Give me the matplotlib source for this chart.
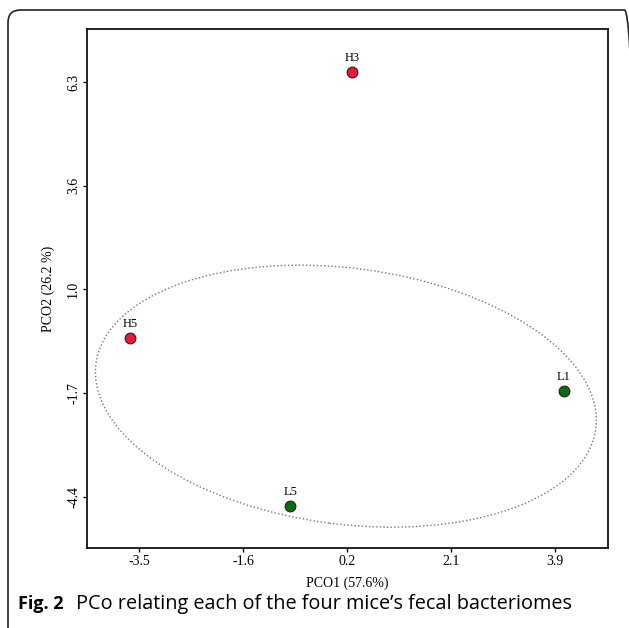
import numpy as np
import matplotlib
matplotlib.use('Agg')
import matplotlib.pyplot as plt
from matplotlib.patches import Ellipse, FancyBboxPatch
from matplotlib.transforms import Affine2D

# data
samples = ['H3', 'H5', 'L1', 'L5']
pco1 = [0.29, -3.66, 4.06, -0.81]
pco2 = [6.56, -0.31, -1.67, -4.63]
groups = ['H', 'H', 'L', 'L']
group_colors = {'H': '#e8173d', 'L': '#0e6a12'}

x_tick_labels = ['-3.5', '-1.6', '0.2', '2.1', '3.9']
y_tick_labels = ['-4.4', '-1.7', '1.0', '3.6', '6.3']
x_ticks = np.linspace(-3.5, 3.9, 5)
y_ticks = np.linspace(-4.4, 6.3, 5)

# ellipse (centre in data units, semi-axes in screen px, tilt in degrees)
ell_center = (0.18, -1.80)
ell_axes_px = (252, 128)
ell_angle = -7.4

W, H = 629, 628
fig = plt.figure(figsize=(W / 100, H / 100), dpi=100)

# rounded frame round the figure
frame = FancyBboxPatch((8 / W, -0.05), 1.0, 1 - 10 / H + 0.05,
                       boxstyle="round,pad=0,rounding_size=0.02",
                       transform=fig.transFigure, fill=False,
                       edgecolor='#222222', linewidth=1.2)
fig.patches.append(frame)

left, right, bottom, top = 87 / W, 608 / W, 1 - 548 / H, 1 - 29 / H
ax = fig.add_axes([left, bottom, right - left, top - bottom])

xlim = (-4.425, 4.843)
ylim = (-5.715, 7.666)
ax.set_xlim(*xlim)
ax.set_ylim(*ylim)

serif = 'Liberation Serif'
for s in ax.spines.values():
    s.set_linewidth(1.3)
    s.set_color('#111111')

ax.set_xticks(x_ticks)
ax.set_xticklabels(x_tick_labels, fontfamily=serif, fontsize=10)
ax.set_yticks(y_ticks)
ax.set_yticklabels(y_tick_labels, fontfamily=serif, fontsize=10,
                   rotation=90, va='center')
ax.tick_params(direction='out', length=3, width=1, color='#111111', pad=2,
               top=False, right=False)

ax.set_xlabel('PCO1 (57.6%)', fontfamily=serif, fontsize=10, labelpad=6)
ax.set_ylabel('PCO2 (26.2 %)', fontfamily=serif, fontsize=10, labelpad=9)

# dotted ellipse drawn in screen-pixel space, then mapped to data
sx = (xlim[1] - xlim[0]) / (608 - 87)
sy = (ylim[1] - ylim[0]) / (548 - 29)
ell = Ellipse((0, 0), 2 * ell_axes_px[0], 2 * ell_axes_px[1], angle=ell_angle,
              fill=False, edgecolor='#777777', linestyle=(0, (1, 1.6)),
              linewidth=1.0)
ell.set_transform(Affine2D().scale(sx, sy).translate(*ell_center) + ax.transData)
ax.add_patch(ell)

for name, x, y, g in zip(samples, pco1, pco2, groups):
    ax.scatter(x, y, s=60, color=group_colors[g], edgecolor='#222222',
               linewidth=0.8, zorder=3)
    ax.annotate(name, (x, y), xytext=(0, 6), textcoords='offset points',
                ha='center', va='bottom', fontfamily=serif, fontsize=9)

fig.text(18 / W, 1 - 604 / H, 'Fig. 2', fontfamily='Open Sans',
         fontweight='bold', fontsize=13, va='center', ha='left')
fig.text(76 / W, 1 - 604 / H, 'PCo relating each of the four mice\u2019s fecal bacteriomes',
         fontfamily='Open Sans', fontsize=14.3, va='center', ha='left')

fig.savefig('out.png', dpi=100)
